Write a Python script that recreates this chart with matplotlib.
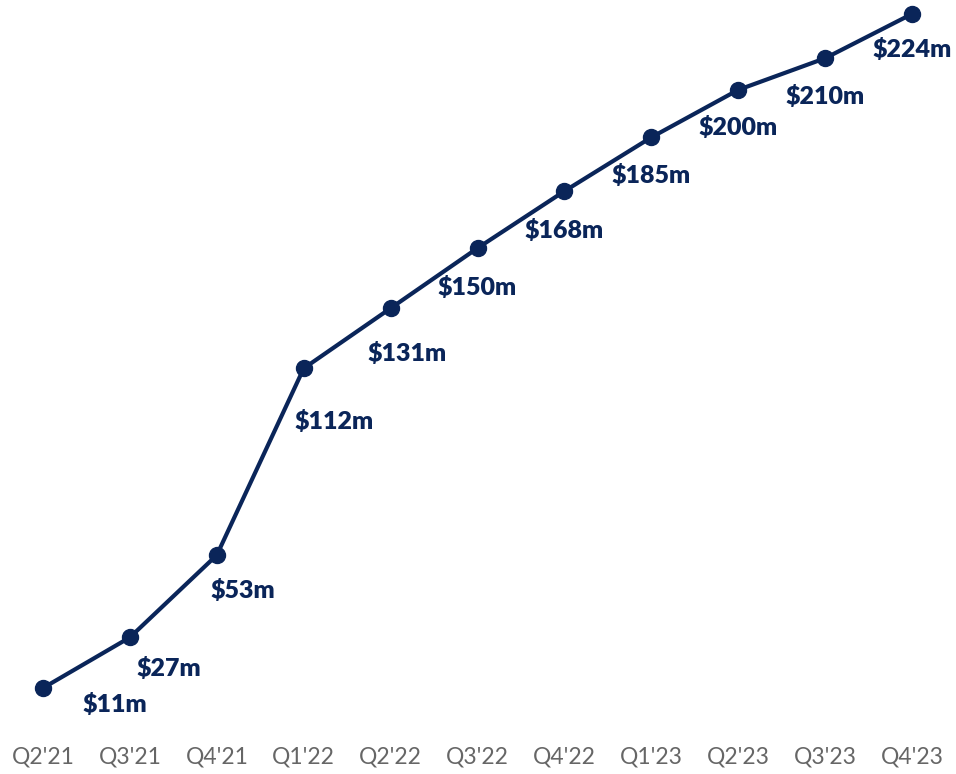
import matplotlib.pyplot as plt

quarters = ["Q2'21", "Q3'21", "Q4'21", "Q1'22", "Q2'22", "Q3'22",
            "Q4'22", "Q1'23", "Q2'23", "Q3'23", "Q4'23"]
revenue = [11, 27, 53, 112, 131, 150, 168, 185, 200, 210, 224]

# label offsets (pixels) from each point: first few pushed right to clear the line
label_dx = [72, 39, 26, 30, 16, 0, 0, 0, 0, 0, 0]
label_dy = [-16, -31, -35, -53, -45, -39, -39, -38, -38, -38, -36]

navy = '#0a2559'
plt.rcParams['font.family'] = ['Lato', 'DejaVu Sans']

fig = plt.figure(figsize=(9.56, 7.74), dpi=100)
ax = fig.add_axes([0, 39 / 774, 1, 735 / 774])

x = list(range(len(quarters)))
ax.plot(x, revenue, color=navy, lw=3, marker='o', ms=11.5, zorder=3)

for i, v in enumerate(revenue):
    ax.annotate(f'${v}m', (i, v), xytext=(label_dx[i], label_dy[i]),
                textcoords='offset pixels', ha='center', va='center',
                fontsize=18, fontweight='heavy', color=navy)

ax.set_xlim(-0.495, 10.506)
ax.set_ylim(-3.85, 228.4)
ax.set_xticks(x)
ax.set_xticklabels(quarters, fontsize=16.5, color='#666666')
ax.tick_params(axis='x', length=0, pad=8)
ax.set_yticks([])
for s in ax.spines.values():
    s.set_visible(False)

fig.savefig('out.png', dpi=100)
